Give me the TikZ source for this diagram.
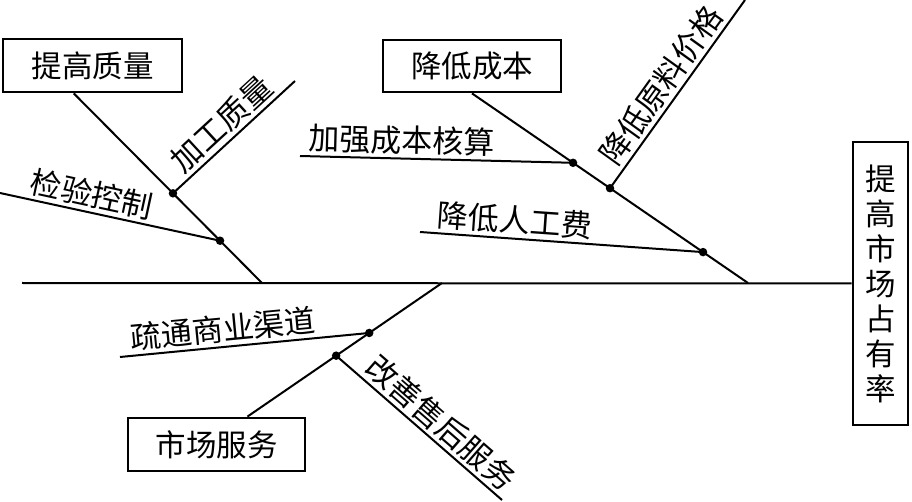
\documentclass[tikz,border=0pt]{standalone}
\usepackage{fontspec}
\newfontfamily\cjk{Noto Sans CJK SC}
\usetikzlibrary{calc,positioning}
\tikzset{
        block/.style = {draw, rectangle, line width=2.8pt, inner sep=0pt,
            font=\cjk\fontsize{30.5}{35}\selectfont},
        bone/.style = {draw, line width=2pt},
        dot/.style = {circle, fill, inner sep=0pt, minimum size=8.5pt},
        cause/.style = {font=\cjk\fontsize{31}{35}\selectfont, inner sep=0pt,
            sloped, above=3pt},
    }

\begin{document}
\begin{tikzpicture}[x=1pt,y=-1pt]
    \useasboundingbox (0,0) rectangle (912,502);

    % boxes
    \node[block, minimum width=179pt, minimum height=53pt] (quality) at (92.5,65.5) {提高质量};
    \node[block, minimum width=178pt, minimum height=52pt] (cost) at (472,66) {降低成本};
    \node[block, minimum width=177pt, minimum height=53pt] (service) at (216.5,444.5) {市场服务};
    \node[block, minimum width=55pt, minimum height=283pt, align=center] (effect) at (880.5,283.5)
        {提\\高\\市\\场\\占\\有\\率};

    % spine and main bones
    \coordinate (tail) at (22,283);
    \coordinate (j1) at (262,283);
    \coordinate (j2) at (748,283);
    \coordinate (j3) at (442,283);
    \coordinate (b1) at ($(quality.south west)!0.397!(quality.south east)$);
    \coordinate (b3) at ($(service.north west)!0.672!(service.north east)$);

    \draw[bone] (tail) -- (effect.west);
    \draw[bone] (b1) -- (j1);
    \draw[bone] (cost.south) -- (j2);
    \draw[bone] (j3) -- (b3);

    % joints
    \node[dot] (d1) at ($(b1)!0.527!(j1)$) {};
    \node[dot] (d2) at ($(b1)!0.777!(j1)$) {};
    \node[dot] (d3) at ($(cost.south)!0.366!(j2)$) {};
    \node[dot] (d4) at ($(cost.south)!0.5!(j2)$) {};
    \node[dot] (d5) at ($(cost.south)!0.837!(j2)$) {};
    \node[dot] (d6) at ($(j3)!0.374!(b3)$) {};
    \node[dot] (d7) at ($(j3)!0.544!(b3)$) {};

    % sub-causes
    \coordinate (e1) at (295,81);
    \coordinate (c2) at (0,193);
    \coordinate (c3) at (300,156);
    \coordinate (e4) at (745,0);
    \coordinate (c5) at (420,232);
    \coordinate (c6) at (120,357);
    \coordinate (e7) at (502,500);

    \draw[bone] (d1.center) -- (e1) node[cause, pos=0.5] {加工质量};
    \draw[bone] (c2) -- (d2.center) node[cause, pos=0.4] {检验控制};
    \draw[bone] (c3) -- (d3.center) node[cause, pos=0.37] {加强成本核算};
    \draw[bone] (d4.center) -- (e4) node[cause, pos=0.49] {降低原料价格};
    \draw[bone] (c5) -- (d5.center) node[cause, pos=0.33] {降低人工费};
    \draw[bone] (c6) -- (d6.center) node[cause, pos=0.42] {疏通商业渠道};
    \draw[bone] (d7.center) -- (e7) node[cause, pos=0.56] {改善售后服务};
\end{tikzpicture}
\end{document}
